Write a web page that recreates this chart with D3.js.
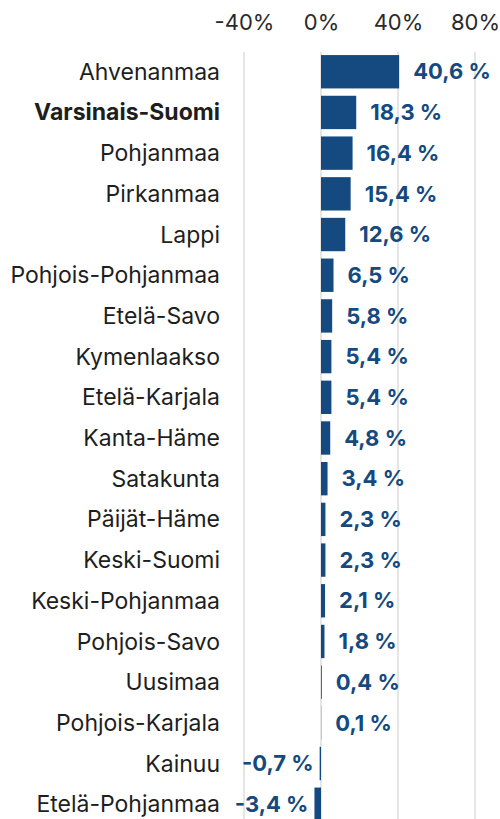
<!DOCTYPE html>
<html>
<head>
<meta charset="utf-8">
<script src="https://cdn.jsdelivr.net/npm/d3@7"></script>
<style>
  html, body { margin: 0; padding: 0; background: #fff; }
  svg { display: block; font-family: Inter, "Noto Sans", sans-serif; }
</style>
</head>
<body>
<div id="app"></div>
<script>
const regions = [
  'Ahvenanmaa', 'Varsinais-Suomi', 'Pohjanmaa', 'Pirkanmaa', 'Lappi',
  'Pohjois-Pohjanmaa', 'Etelä-Savo', 'Kymenlaakso', 'Etelä-Karjala', 'Kanta-Häme',
  'Satakunta', 'Päijät-Häme', 'Keski-Suomi', 'Keski-Pohjanmaa', 'Pohjois-Savo',
  'Uusimaa', 'Pohjois-Karjala', 'Kainuu', 'Etelä-Pohjanmaa'
];
const change = [
  40.6, 18.3, 16.4, 15.4, 12.6,
  6.5, 5.8, 5.4, 5.4, 4.8,
  3.4, 2.3, 2.3, 2.1, 1.8,
  0.4, 0.1, -0.7, -3.4
];
const highlighted = ['Varsinais-Suomi'];
const ticks = [-40, 0, 40, 80];

const conf = { width: 500, height: 819 };
const barColor = '#144a80';

const data = regions.map((name, i) => ({ name, value: change[i] }));

const svg = d3.select('#app').append('svg')
  .attr('width', conf.width)
  .attr('height', conf.height);

const x = d3.scaleLinear()
  .domain([-40, 80])
  .range([244, 475]);

const y = d3.scaleBand()
  .domain(regions)
  .range([51, 825])
  .paddingInner(0.18)
  .paddingOuter(0.1);

const fmt = v => d3.format('.1f')(v).replace('.', ',').replace('−', '-') + ' %';

// grid lines
svg.append('g')
  .selectAll('line')
  .data(ticks)
  .enter()
  .append('line')
  .attr('x1', d => x(d))
  .attr('x2', d => x(d))
  .attr('y1', 52)
  .attr('y2', conf.height)
  .attr('stroke', '#dcdcdc')
  .attr('stroke-width', 1.5);

// top axis
const axis = svg.append('g')
  .attr('transform', 'translate(0, 30)')
  .call(d3.axisTop(x).tickValues(ticks).tickSize(0).tickFormat(d => d + '%'));
axis.select('.domain').remove();
axis.selectAll('text')
  .attr('dy', 0)
  .attr('y', 0)
  .style('font-family', 'Inter, sans-serif')
  .style('font-size', '22px')
  .style('fill', '#2a2a2a');

// category labels
svg.append('g')
  .selectAll('text')
  .data(data)
  .enter()
  .append('text')
  .attr('x', 220)
  .attr('y', d => y(d.name) + y.bandwidth() / 2)
  .attr('dy', '0.35em')
  .attr('text-anchor', 'end')
  .style('font-size', '23px')
  .style('font-weight', d => highlighted.includes(d.name) ? 700 : 400)
  .style('fill', '#1e1e1e')
  .text(d => d.name);

// bars
svg.append('g')
  .selectAll('rect')
  .data(data)
  .enter()
  .append('rect')
  .attr('x', d => x(Math.min(0, d.value)))
  .attr('y', d => y(d.name))
  .attr('width', d => Math.abs(x(d.value) - x(0)))
  .attr('height', y.bandwidth())
  .attr('fill', barColor);

// value labels
svg.append('g')
  .selectAll('text')
  .data(data)
  .enter()
  .append('text')
  .attr('x', d => d.value >= 0 ? x(d.value) + 14 : x(d.value) - 6)
  .attr('y', d => y(d.name) + y.bandwidth() / 2)
  .attr('dy', '0.35em')
  .attr('text-anchor', d => d.value >= 0 ? 'start' : 'end')
  .style('font-size', '22px')
  .style('font-weight', 700)
  .style('fill', barColor)
  .text(d => fmt(d.value));
</script>
</body>
</html>
